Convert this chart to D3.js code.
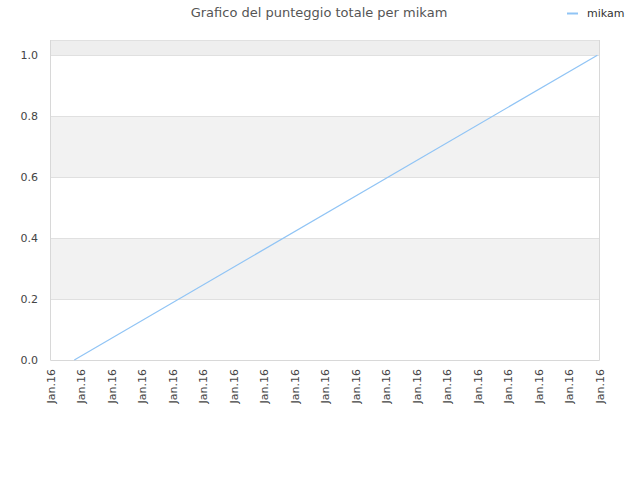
<!DOCTYPE html>
<html><head><meta charset="utf-8">
<script src="https://cdn.jsdelivr.net/npm/d3@7"></script>
<style>body{margin:0;background:#fff}svg{display:block}text{font-family:"DejaVu Sans",sans-serif}</style>
</head><body><svg id="c" width="640" height="480"></svg>
<script>
const title = "Grafico del punteggio totale per mikam";
const seriesName = "mikam";
const tickPositions = [0,1,2,3,4,5,6,7,8,9,10,11,12,13,14,15,16,17,18];
const tickLabels = ["Jan.16","Jan.16","Jan.16","Jan.16","Jan.16","Jan.16","Jan.16","Jan.16","Jan.16","Jan.16","Jan.16","Jan.16","Jan.16","Jan.16","Jan.16","Jan.16","Jan.16","Jan.16","Jan.16"];
const xValues = [0.78, 17.93];
const yValues = [0, 1];
const yTicks = [0, 0.2, 0.4, 0.6, 0.8, 1.0];

const svg = d3.select("#c");
const m = {l:50.5, r:599.5, t:40, b:360};
const x = d3.scaleLinear().domain([0,18]).range([m.l, m.r]);
const y = d3.scaleLinear().domain([0,1.05]).range([m.b, m.t]);

// bands
const bands = [[0,0.2,"#ffffff"],[0.2,0.4,"#f2f2f2"],[0.4,0.6,"#ffffff"],[0.6,0.8,"#f2f2f2"],[0.8,1.0,"#ffffff"],[1.0,1.05,"#eeeeee"]];
svg.selectAll("rect.band").data(bands).enter().append("rect")
  .attr("x", m.l).attr("width", m.r-m.l)
  .attr("y", d=>y(d[1])).attr("height", d=>y(d[0])-y(d[1]))
  .attr("fill", d=>d[2]);
// grid lines
svg.selectAll("line.grid").data(yTicks.concat([1.05])).enter().append("line")
  .attr("x1", m.l).attr("x2", m.r)
  .attr("y1", d=>Math.round(y(d))+0.5).attr("y2", d=>Math.round(y(d))+0.5)
  .attr("stroke", "#e0e0e0");
// border
svg.append("line").attr("x1",m.l).attr("x2",m.l).attr("y1",m.t).attr("y2",m.b).attr("stroke","#d8d8d8");
svg.append("line").attr("x1",m.r).attr("x2",m.r).attr("y1",m.t).attr("y2",m.b).attr("stroke","#d8d8d8");
svg.append("line").attr("x1",m.l).attr("x2",m.r).attr("y1",m.b+0.5).attr("y2",m.b+0.5).attr("stroke","#d8d8d8");

// y axis labels
svg.selectAll("text.yl").data(yTicks).enter().append("text")
  .attr("x", 38).attr("y", d=>y(d)).attr("dy","0.35em")
  .attr("text-anchor","end").attr("font-size",11).attr("fill","#444")
  .text(d=>d.toFixed(1));

// x axis labels
svg.selectAll("text.xl").data(tickPositions).enter().append("text")
  .attr("transform", d=>`translate(${x(d)+4},${m.b+9}) rotate(-90)`)
  .attr("text-anchor","end").attr("font-size",11).attr("fill","#444")
  .text((d,i)=>tickLabels[i]);

// line
const pts = xValues.map((v,i)=>[v, yValues[i]]);
svg.append("path").datum(pts)
  .attr("d", d3.line().x(d=>x(d[0])).y(d=>y(d[1])))
  .attr("fill","none").attr("stroke","#90c4f5").attr("stroke-width",1.2);

// title
svg.append("text").attr("x",319).attr("y",17).attr("text-anchor","middle")
  .attr("font-size",13).attr("fill","#555").text(title);

// legend
svg.append("line").attr("x1",567).attr("x2",578).attr("y1",13.5).attr("y2",13.5)
  .attr("stroke","#90c4f5").attr("stroke-width",2);
svg.append("text").attr("x",587).attr("y",13).attr("dy","0.35em")
  .attr("font-size",11).attr("fill","#333").text(seriesName);
</script></body></html>
